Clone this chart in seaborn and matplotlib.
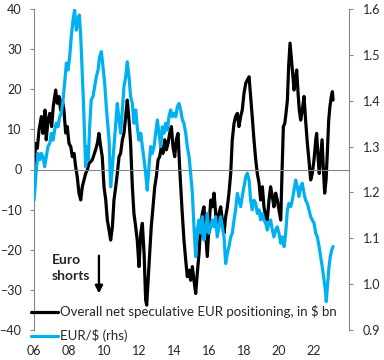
import numpy as np
import matplotlib
matplotlib.use("Agg")
import matplotlib.pyplot as plt
import seaborn as sns

# Overall net speculative EUR positioning, $ bn (left axis)
pos_year = [2006.00, 2006.10, 2006.19, 2006.29, 2006.42, 2006.51, 2006.63, 2006.70, 2006.80, 2006.90,
            2007.01, 2007.10, 2007.24, 2007.33, 2007.43, 2007.52, 2007.62, 2007.71, 2007.81, 2007.90,
            2008.00, 2008.10, 2008.19, 2008.29, 2008.38, 2008.47, 2008.57, 2008.67, 2008.76, 2008.86,
            2008.95, 2009.05, 2009.14, 2009.33, 2009.52, 2009.62, 2009.71, 2009.81, 2009.90, 2010.00,
            2010.10, 2010.19, 2010.29, 2010.38, 2010.48, 2010.57, 2010.67, 2010.76, 2010.86, 2010.95,
            2011.05, 2011.14, 2011.24, 2011.33, 2011.43, 2011.52, 2011.62, 2011.71, 2011.81, 2011.90,
            2012.00, 2012.10, 2012.19, 2012.29, 2012.38, 2012.44, 2012.51, 2012.61, 2012.70, 2012.80,
            2012.90, 2012.99, 2013.09, 2013.18, 2013.28, 2013.37, 2013.47, 2013.56, 2013.66, 2013.75,
            2013.85, 2013.94, 2014.04, 2014.13, 2014.23, 2014.32, 2014.46, 2014.57, 2014.67, 2014.76,
            2014.86, 2014.95, 2015.05, 2015.14, 2015.24, 2015.33, 2015.43, 2015.52, 2015.62, 2015.71,
            2015.81, 2015.90, 2016.00, 2016.10, 2016.19, 2016.29, 2016.38, 2016.47, 2016.57, 2016.67,
            2016.76, 2016.86, 2016.95, 2017.05, 2017.14, 2017.24, 2017.33, 2017.43, 2017.52, 2017.62,
            2017.71, 2017.81, 2017.90, 2018.00, 2018.10, 2018.19, 2018.29, 2018.38, 2018.47, 2018.57,
            2018.67, 2018.76, 2018.86, 2018.95, 2019.05, 2019.14, 2019.24, 2019.33, 2019.43, 2019.52,
            2019.62, 2019.71, 2019.81, 2019.90, 2020.00, 2020.10, 2020.17, 2020.25, 2020.33, 2020.40,
            2020.48, 2020.55, 2020.63, 2020.70, 2020.78, 2020.86, 2020.93, 2021.01, 2021.09, 2021.16,
            2021.24, 2021.33, 2021.43, 2021.52, 2021.62, 2021.71, 2021.81, 2021.90, 2022.00, 2022.10,
            2022.15, 2022.23, 2022.30, 2022.38, 2022.46, 2022.53, 2022.61, 2022.69, 2022.76, 2022.84,
            2022.91, 2022.99, 2023.05, 2023.09]
pos_value = [0.7, 6.5, 5.3, 9.9, 13.2, 9.0, 14.8, 7.4, 12.3, 14.0,
             10.7, 15.7, 19.8, 16.5, 18.2, 14.8, 17.3, 14.8, 9.1, 10.7,
             6.5, 5.7, 3.2, 4.0, 0.7, -1.8, -5.9, -7.6, -4.3, -2.6,
             -1.0, -0.1, 1.5, 2.4, 4.9, 6.5, 9.0, 5.7, 3.2, -4.3,
             -7.6, -12.6, -15.1, -17.6, -14.3, -7.6, -4.3, -1.0, 3.2, 4.0,
             7.4, 9.0, 13.2, 17.3, 12.3, 6.5, -4.3, -10.9, -14.3, -17.6,
             -24.2, -15.9, -13.4, -20.9, -32.5, -33.8, -28.4, -20.9, -14.3, -9.3,
             -4.3, -1.8, 2.4, 3.2, 5.7, 4.0, 7.4, 4.9, 6.5, 9.0,
             10.7, 5.7, 3.2, 7.4, 9.0, 0.7, -10.1, -17.6, -22.6, -26.7,
             -25.1, -27.6, -24.2, -27.6, -30.9, -25.9, -20.9, -14.3, -10.9, -9.3,
             -15.9, -21.7, -14.3, -7.6, -9.3, -5.9, -10.9, -15.1, -10.9, -9.3,
             -12.6, -15.9, -11.8, -9.3, -5.9, -1.0, 7.4, 11.5, 13.2, 14.0,
             10.7, 13.2, 14.8, 19.0, 21.5, 22.3, 23.1, 18.2, 13.2, 7.4,
             2.4, -1.0, -3.4, -7.6, -4.3, -9.3, -11.8, -12.6, -7.6, -4.3,
             -6.8, -9.3, -5.9, -7.6, -10.1, -12.6, -1.0, 10.7, 11.5, 14.0,
             17.3, 25.6, 31.5, 28.1, 24.0, 19.8, 22.3, 24.8, 19.0, 14.8,
             12.3, 14.8, 18.2, 12.3, 6.5, 2.4, -2.6, -1.0, 2.4, 7.4,
             9.0, 3.2, -1.0, 3.2, 7.4, 0.7, -5.9, -2.6, 4.0, 12.3,
             15.7, 18.2, 19.4, 17.3]

# EUR/$ (right axis)
fx_year = [2006.00, 2006.06, 2006.13, 2006.23, 2006.33, 2006.42, 2006.51, 2006.61, 2006.70, 2006.80,
           2006.90, 2006.99, 2007.09, 2007.18, 2007.27, 2007.37, 2007.47, 2007.56, 2007.66, 2007.75,
           2007.85, 2007.94, 2008.04, 2008.13, 2008.23, 2008.32, 2008.42, 2008.51, 2008.59, 2008.67,
           2008.74, 2008.82, 2008.90, 2008.95, 2009.03, 2009.10, 2009.18, 2009.27, 2009.37, 2009.47,
           2009.56, 2009.66, 2009.75, 2009.85, 2009.94, 2010.04, 2010.13, 2010.23, 2010.29, 2010.38,
           2010.48, 2010.57, 2010.67, 2010.76, 2010.86, 2010.95, 2011.05, 2011.14, 2011.24, 2011.33,
           2011.43, 2011.52, 2011.62, 2011.71, 2011.81, 2011.90, 2012.00, 2012.10, 2012.19, 2012.29,
           2012.38, 2012.47, 2012.57, 2012.67, 2012.76, 2012.86, 2012.95, 2013.05, 2013.14, 2013.24,
           2013.33, 2013.43, 2013.52, 2013.62, 2013.71, 2013.81, 2013.90, 2014.00, 2014.10, 2014.19,
           2014.29, 2014.38, 2014.48, 2014.57, 2014.67, 2014.76, 2014.86, 2014.95, 2015.05, 2015.14,
           2015.24, 2015.33, 2015.43, 2015.52, 2015.62, 2015.71, 2015.81, 2015.90, 2016.00, 2016.10,
           2016.19, 2016.29, 2016.38, 2016.47, 2016.57, 2016.67, 2016.76, 2016.86, 2016.95, 2017.05,
           2017.14, 2017.24, 2017.33, 2017.43, 2017.52, 2017.62, 2017.71, 2017.81, 2017.90, 2018.00,
           2018.10, 2018.19, 2018.29, 2018.38, 2018.47, 2018.57, 2018.67, 2018.76, 2018.86, 2018.95,
           2019.05, 2019.14, 2019.24, 2019.33, 2019.43, 2019.52, 2019.62, 2019.71, 2019.81, 2019.90,
           2020.00, 2020.10, 2020.19, 2020.29, 2020.38, 2020.48, 2020.57, 2020.67, 2020.76, 2020.86,
           2020.95, 2021.05, 2021.14, 2021.24, 2021.33, 2021.43, 2021.52, 2021.62, 2021.71, 2021.81,
           2021.90, 2022.00, 2022.10, 2022.19, 2022.29, 2022.38, 2022.47, 2022.57, 2022.65, 2022.70,
           2022.78, 2022.86, 2022.93, 2023.01, 2023.09]
fx_value = [1.183, 1.212, 1.249, 1.285, 1.271, 1.285, 1.278, 1.256, 1.278, 1.300,
            1.307, 1.329, 1.314, 1.336, 1.351, 1.343, 1.365, 1.373, 1.402, 1.438,
            1.482, 1.467, 1.496, 1.540, 1.576, 1.598, 1.554, 1.576, 1.587, 1.540,
            1.474, 1.402, 1.314, 1.256, 1.300, 1.271, 1.343, 1.402, 1.409, 1.431,
            1.452, 1.467, 1.496, 1.507, 1.474, 1.438, 1.387, 1.343, 1.314, 1.212,
            1.256, 1.300, 1.351, 1.394, 1.358, 1.329, 1.380, 1.431, 1.452, 1.485,
            1.452, 1.409, 1.394, 1.351, 1.380, 1.343, 1.314, 1.329, 1.300, 1.271,
            1.242, 1.205, 1.256, 1.300, 1.285, 1.300, 1.329, 1.358, 1.329, 1.300,
            1.343, 1.329, 1.351, 1.336, 1.365, 1.380, 1.365, 1.373, 1.365, 1.387,
            1.394, 1.380, 1.358, 1.351, 1.329, 1.300, 1.278, 1.242, 1.198, 1.125,
            1.060, 1.118, 1.140, 1.111, 1.147, 1.096, 1.118, 1.154, 1.111, 1.125,
            1.140, 1.125, 1.147, 1.103, 1.125, 1.147, 1.125, 1.103, 1.045, 1.067,
            1.082, 1.103, 1.111, 1.140, 1.162, 1.198, 1.183, 1.169, 1.191, 1.212,
            1.234, 1.242, 1.227, 1.183, 1.162, 1.183, 1.176, 1.154, 1.162, 1.140,
            1.154, 1.140, 1.133, 1.118, 1.133, 1.140, 1.118, 1.103, 1.118, 1.125,
            1.111, 1.089, 1.103, 1.082, 1.111, 1.162, 1.176, 1.169, 1.183, 1.205,
            1.227, 1.212, 1.191, 1.212, 1.220, 1.198, 1.183, 1.176, 1.162, 1.147,
            1.140, 1.133, 1.111, 1.103, 1.082, 1.060, 1.038, 1.009, 0.987, 0.962,
            1.002, 1.038, 1.060, 1.074, 1.082]

x_ticks = [2006, 2008, 2010, 2012, 2014, 2016, 2018, 2020, 2022]
x_labels = ["06", "08", "10", "12", "14", "16", "18", "20", "22"]
fx_ticks = [0.9, 1.0, 1.1, 1.2, 1.3, 1.4, 1.5, 1.6]

sns.set_style("white")
plt.rcParams['font.family'] = ['Lato', 'DejaVu Sans']

black = "#000000"
blue = "#00B0F0"
grey = "#868686"

fig, ax = plt.subplots(figsize=(3.84, 3.6), dpi=100)
fig.subplots_adjust(left=34/384, right=349/384, bottom=30/360, top=351/360)
ax2 = ax.twinx()

sns.lineplot(x=pos_year, y=pos_value, ax=ax, color=black, lw=2.3,
             label="Overall net speculative EUR positioning, in $ bn", legend=False)
sns.lineplot(x=fx_year, y=fx_value, ax=ax2, color=blue, lw=2.3,
             label="EUR/$ (rhs)", legend=False)

ax.set_xlim(2006, 2024)
ax.set_ylim(-40, 40)
ax2.set_ylim(0.9, 1.6)
ax.set_yticks(range(-40, 41, 10))
ax2.set_yticks(fx_ticks)
ax2.set_yticklabels([f"{v:.1f}" for v in fx_ticks])

# zero line carries the x tick marks, labels sit at the bottom via the twin
ax.spines['bottom'].set_position(('data', 0))
ax.set_xticks(x_ticks + [2024])
ax.tick_params(axis='x', direction='out', length=3, color=grey, labelbottom=False)
ax2.xaxis.set_visible(True)
ax2.set_xticks(x_ticks)
ax2.set_xticklabels(x_labels)
ax2.tick_params(axis='x', length=0, pad=11, labelsize=9)

for a in (ax, ax2):
    a.spines['top'].set_visible(False)
    for s in ('left', 'right', 'bottom'):
        a.spines[s].set_color(grey)
ax2.spines['bottom'].set_visible(False)
ax.spines['right'].set_visible(False)
ax2.spines['left'].set_visible(False)

ax.tick_params(axis='y', direction='out', length=3, color=grey, labelsize=9, pad=6)
ax2.tick_params(axis='y', direction='out', length=3, color=grey, labelsize=9, pad=7)
ax.set_xlabel("")
ax.set_ylabel("")
ax2.set_ylabel("")

ax2.text(2007.03, -21.0, "Euro\nshorts", ha='left', va='top', fontsize=10,
         fontweight='bold', linespacing=1.45, transform=ax.transData)
ax2.annotate("", xy=(2009.71, -30.9), xytext=(2009.71, -21.5),
             xycoords=ax.transData, textcoords=ax.transData,
             arrowprops=dict(arrowstyle='-|>', color=black, lw=1.7, mutation_scale=11,
                             shrinkA=0, shrinkB=0))

h1, l1 = ax.get_legend_handles_labels()
h2, l2 = ax2.get_legend_handles_labels()
leg = ax2.legend(h1 + h2, l1 + l2, loc='upper left', bbox_to_anchor=(-0.009, 0.077),
                 frameon=False, fontsize=9.5, borderaxespad=0, borderpad=0,
                 handlelength=2.05, handletextpad=0.15, labelspacing=0.83)

fig.savefig("out.png", dpi=100)
